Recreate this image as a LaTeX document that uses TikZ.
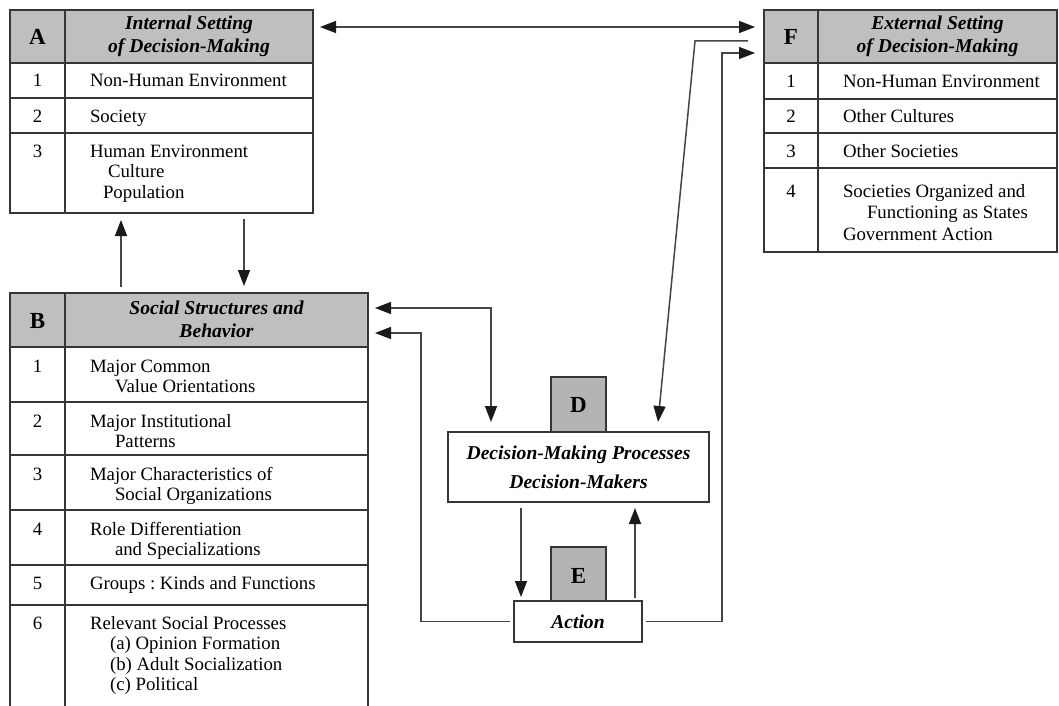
\documentclass[tikz,border=0pt]{standalone}
\usepackage{fontspec}
\setmainfont{Liberation Serif}
\usetikzlibrary{arrows.meta,fit,calc}
\definecolor{hdr}{HTML}{BFBFBF}
\definecolor{lbl}{HTML}{B4B4B4}
\definecolor{ln}{HTML}{363636}
\definecolor{cn}{HTML}{454545}
\definecolor{tipc}{HTML}{1A1A1A}
\tikzset{
  cell/.style={draw=ln, line width=1.7pt, inner sep=0pt, outer sep=0pt},
  hcell/.style={cell, fill=hdr},
  wbox/.style={cell, fill=white},
  lbox/.style={draw=ln, line width=1.7pt, fill=lbl, inner sep=0pt, outer sep=0pt},
  grp/.style={inner sep=0pt, outer sep=0pt},
  txt/.style={inner sep=0pt, outer sep=0pt, font=\fontsize{18.8}{20}\selectfont\frenchspacing, anchor=base west},
  num/.style={inner sep=0pt, outer sep=0pt, font=\fontsize{18.8}{20}\selectfont, anchor=base},
  htxt/.style={inner sep=0pt, outer sep=0pt, font=\fontsize{19.6}{22}\selectfont\bfseries\itshape, anchor=base},
  ltr/.style={inner sep=0pt, outer sep=0pt, font=\fontsize{23}{25}\selectfont\bfseries, anchor=base},
  conn/.style={draw=cn, line width=1.5pt},
  >={Triangle[length=16pt,width=12pt,color=tipc]}
}
\begin{document}
\begin{tikzpicture}[x=1pt,y=-1pt]
\useasboundingbox (0,0) rectangle (1059,706);
\clip (0,0) rectangle (1059,706);
\fill[white] (0,0) rectangle (1059,706);

% ---------- Table A ----------
\node[hcell, fit={(10,10)(65,63)}] (Ahl) {};
\node[hcell, fit={(65,10)(313,63)}] (Aht) {};
\node[cell, fit={(10,63)(65,98)}] (An1) {};
\node[cell, fit={(65,63)(313,98)}] (At1) {};
\node[cell, fit={(10,98)(65,133)}] (An2) {};
\node[cell, fit={(65,98)(313,133)}] (At2) {};
\node[cell, fit={(10,133)(65,213)}] (An3) {};
\node[cell, fit={(65,133)(313,213)}] (At3) {};
\node[grp, fit={(10,10)(313,213)}] (A) {};
\node[ltr] (Alab) at (37.5,45) {A};
\node[htxt] (Ah1) at (189,30) {Internal Setting};
\node[htxt] (Ah2) at (189,53) {of Decision-Making};
\node[num] (Aa1) at (37.5,87) {1};
\node[num] (Aa2) at (37.5,122) {2};
\node[num] (Aa3) at (37.5,157) {3};
\node[txt] (Ab1) at (90,87) {Non-Human Environment};
\node[txt] (Ab2) at (90,122) {Society};
\node[txt] (Ab3) at (90,157) {Human Environment};
\node[txt] (Ab4) at (108,177.5) {Culture};
\node[txt] (Ab5) at (103,198) {Population};

% ---------- Table F ----------
\node[hcell, fit={(764,10)(818,63)}] (Fhl) {};
\node[hcell, fit={(818,10)(1057,63)}] (Fht) {};
\node[cell, fit={(764,63)(818,99)}] (Fn1) {};
\node[cell, fit={(818,63)(1057,99)}] (Ft1) {};
\node[cell, fit={(764,99)(818,133)}] (Fn2) {};
\node[cell, fit={(818,99)(1057,133)}] (Ft2) {};
\node[cell, fit={(764,133)(818,168)}] (Fn3) {};
\node[cell, fit={(818,133)(1057,168)}] (Ft3) {};
\node[cell, fit={(764,168)(818,252)}] (Fn4) {};
\node[cell, fit={(818,168)(1057,252)}] (Ft4) {};
\node[grp, fit={(764,10)(1057,252)}] (F) {};
\node[ltr] (Flab) at (791,45) {F};
\node[htxt] (Fh1) at (937.5,30) {External Setting};
\node[htxt] (Fh2) at (937.5,53) {of Decision-Making};
\node[num] (Fa1) at (791,88) {1};
\node[num] (Fa2) at (791,123) {2};
\node[num] (Fa3) at (791,157) {3};
\node[num] (Fa4) at (791,197) {4};
\node[txt] (Fb1) at (843,88) {Non-Human Environment};
\node[txt] (Fb2) at (843,123) {Other Cultures};
\node[txt] (Fb3) at (843,157) {Other Societies};
\node[txt] (Fb4) at (843,197) {Societies Organized and};
\node[txt] (Fb5) at (867,218.5) {Functioning as States};
\node[txt] (Fb6) at (843,240) {Government Action};

% ---------- Table B ----------
\node[hcell, fit={(10,293)(65,347)}] (Bhl) {};
\node[hcell, fit={(65,293)(368,347)}] (Bht) {};
\node[cell, fit={(10,347)(65,402)}] (Bn1) {};
\node[cell, fit={(65,347)(368,402)}] (Bt1) {};
\node[cell, fit={(10,402)(65,455)}] (Bn2) {};
\node[cell, fit={(65,402)(368,455)}] (Bt2) {};
\node[cell, fit={(10,455)(65,510)}] (Bn3) {};
\node[cell, fit={(65,455)(368,510)}] (Bt3) {};
\node[cell, fit={(10,510)(65,565)}] (Bn4) {};
\node[cell, fit={(65,510)(368,565)}] (Bt4) {};
\node[cell, fit={(10,565)(65,605)}] (Bn5) {};
\node[cell, fit={(65,565)(368,605)}] (Bt5) {};
\node[cell, fit={(10,605)(65,716)}] (Bn6) {};
\node[cell, fit={(65,605)(368,716)}] (Bt6) {};
\node[grp, fit={(10,293)(368,716)}] (B) {};
\node[ltr] (Blab) at (37.5,328) {B};
\node[htxt] (Bh1) at (216.5,314.5) {Social Structures and};
\node[htxt] (Bh2) at (216.5,337.5) {Behavior};
\node[num] (Ba1) at (37.5,372) {1};
\node[num] (Ba2) at (37.5,427) {2};
\node[num] (Ba3) at (37.5,480) {3};
\node[num] (Ba4) at (37.5,535) {4};
\node[num] (Ba5) at (37.5,589) {5};
\node[num] (Ba6) at (37.5,629) {6};
\node[txt] (Bb1) at (90,372) {Major Common};
\node[txt] (Bb2) at (115,392.5) {Value Orientations};
\node[txt] (Bb3) at (90,427) {Major Institutional};
\node[txt] (Bb4) at (115,447.5) {Patterns};
\node[txt] (Bb5) at (90,480) {Major Characteristics of};
\node[txt] (Bb6) at (115,500.5) {Social Organizations};
\node[txt] (Bb7) at (90,535) {Role Differentiation};
\node[txt] (Bb8) at (115,555.5) {and Specializations};
\node[txt] (Bb9) at (90,589) {Groups : Kinds and Functions};
\node[txt] (Bb10) at (90,629) {Relevant Social Processes};
\node[txt] (Bb11) at (110,649.5) {(a) Opinion Formation};
\node[txt] (Bb12) at (110,670) {(b) Adult Socialization};
\node[txt] (Bb13) at (110,690.5) {(c) Political};

% ---------- D ----------
\node[lbox, fit={(551,377)(606,432)}] (Dl) {};
\node[wbox, fit={(448,432)(709,502)}] (Dm) {};
\node[ltr] (Dlab) at (578.5,412) {D};
\node[htxt] (Dt1) at (578.5,459) {Decision-Making Processes};
\node[htxt] (Dt2) at (578.5,488) {Decision-Makers};

% ---------- E ----------
\node[lbox, fit={(551,547)(606,601)}] (El) {};
\node[wbox, fit={(514,601)(642,642)}] (Act) {};
\node[ltr] (Elab) at (578.5,583) {E};
\node[htxt] (Et1) at (578,628) {Action};

% ---------- Connectors ----------
\draw[conn,<->] ([xshift=7pt,yshift=-17pt]A.north east) -- ([xshift=-9pt,yshift=-17pt]F.north west);
\draw[conn,->] ([xshift=-16pt,yshift=-31pt]F.north west) -- ([xshift=-69pt,yshift=-31pt]F.north west) -- ([xshift=210pt,yshift=10pt]Dm.north west);
\draw[conn,->] ([xshift=4pt]Act.east) -| ([xshift=-42pt,yshift=-43pt]F.north west) -- ([xshift=-9pt,yshift=-43pt]F.north west);
\draw[conn,->] ([xshift=-4pt]Act.west) -| ([xshift=53pt,yshift=-40pt]B.north east) -- ([xshift=7pt,yshift=-40pt]B.north east);
\draw[conn,<->] ([xshift=7pt,yshift=-15pt]B.north east) -| ([xshift=43pt,yshift=10pt]Dm.north west);
\draw[conn,->] ([xshift=111pt,yshift=6pt]B.north west) -- ([xshift=111pt,yshift=-7pt]A.south west);
\draw[conn,->] ([xshift=234pt,yshift=-6pt]A.south west) -- ([xshift=234pt,yshift=7pt]B.north west);
\draw[conn,->] ([xshift=73pt,yshift=-6pt]Dm.south west) -- ([xshift=7pt,yshift=4pt]Act.north west);
\draw[conn,->] ([xshift=121pt,yshift=3pt]Act.north west) -- ([xshift=187pt,yshift=-6pt]Dm.south west);
\end{tikzpicture}
\end{document}
